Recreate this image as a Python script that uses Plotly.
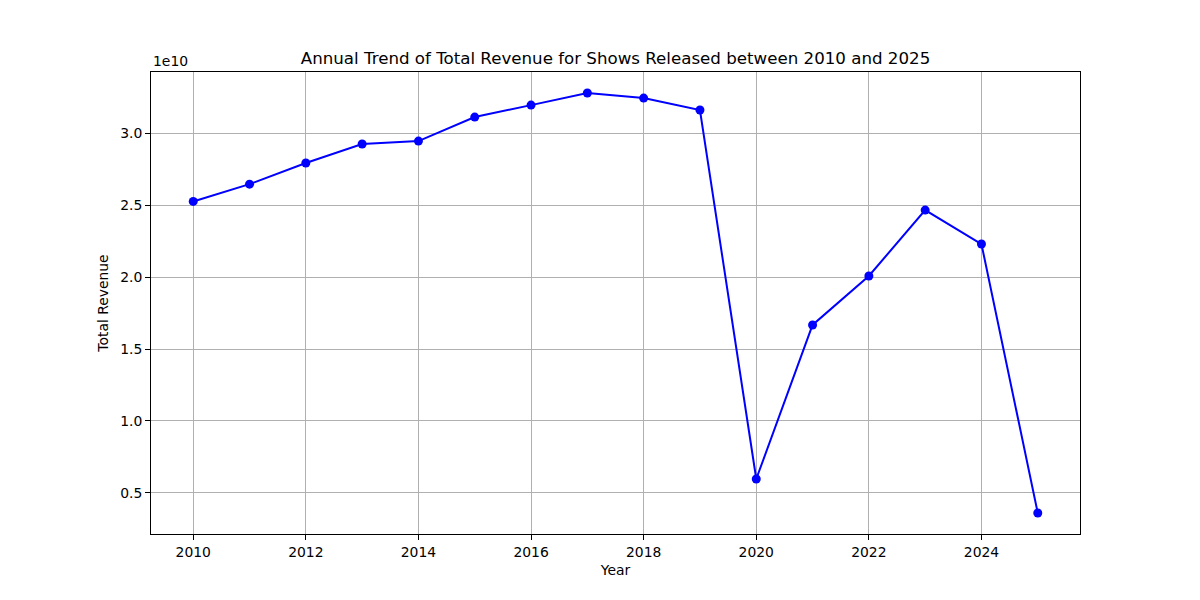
import plotly.graph_objects as go

years = list(range(2010, 2026))
revenue_e10 = [2.525, 2.645, 2.792, 2.924, 2.944, 3.111, 3.194, 3.278, 3.243, 3.160,
               0.597, 1.667, 2.007, 2.465, 2.229, 0.361]
revenue = [v * 1e10 for v in revenue_e10]
ytick_vals = [0.5e10, 1.0e10, 1.5e10, 2.0e10, 2.5e10, 3.0e10]
ytick_text = ["0.5", "1.0", "1.5", "2.0", "2.5", "3.0"]
xtick_vals = [2010, 2012, 2014, 2016, 2018, 2020, 2022, 2024]

font = "DejaVu Sans"
W, H = 1184, 584
fs = 13.9

fig = go.Figure()
fig.add_trace(go.Scatter(
    x=years, y=revenue, mode="lines+markers",
    line=dict(color="#0000ff", width=2),
    marker=dict(color="#0000ff", size=9),
    showlegend=False,
))

axis_common = dict(
    showline=True, linecolor="black", linewidth=1, mirror=True,
    showgrid=True, gridcolor="#b0b0b0", gridwidth=1,
    ticks="outside", ticklen=5, tickcolor="black",
    tickfont=dict(family=font, size=fs, color="black"),
    zeroline=False,
)

fig.update_layout(
    width=W, height=H,
    paper_bgcolor="white", plot_bgcolor="white",
    margin=dict(l=143, r=W - 1072, t=64, b=H - 526),
    font=dict(family=font, color="black"),
    title=dict(text="Annual Trend of Total Revenue for Shows Released between 2010 and 2025",
               x=607.5 / W, xanchor="center", y=1 - 50 / H, yanchor="middle",
               font=dict(family=font, size=16.67, color="black")),
    xaxis=dict(range=[2009.25, 2025.75], tickvals=xtick_vals,
               title=dict(text="Year", font=dict(family=font, size=fs), standoff=6),
               **axis_common),
    yaxis=dict(range=[0.215e10, 3.424e10], tickvals=ytick_vals, ticktext=ytick_text,
               title=dict(text="Total Revenue", font=dict(family=font, size=fs), standoff=8),
               **axis_common),
    annotations=[dict(text="1e10", xref="paper", yref="paper", x=0, y=1,
                      xanchor="left", yanchor="bottom", yshift=1, showarrow=False,
                      font=dict(family=font, size=fs, color="black"))],
)

fig.write_html("out.html")
